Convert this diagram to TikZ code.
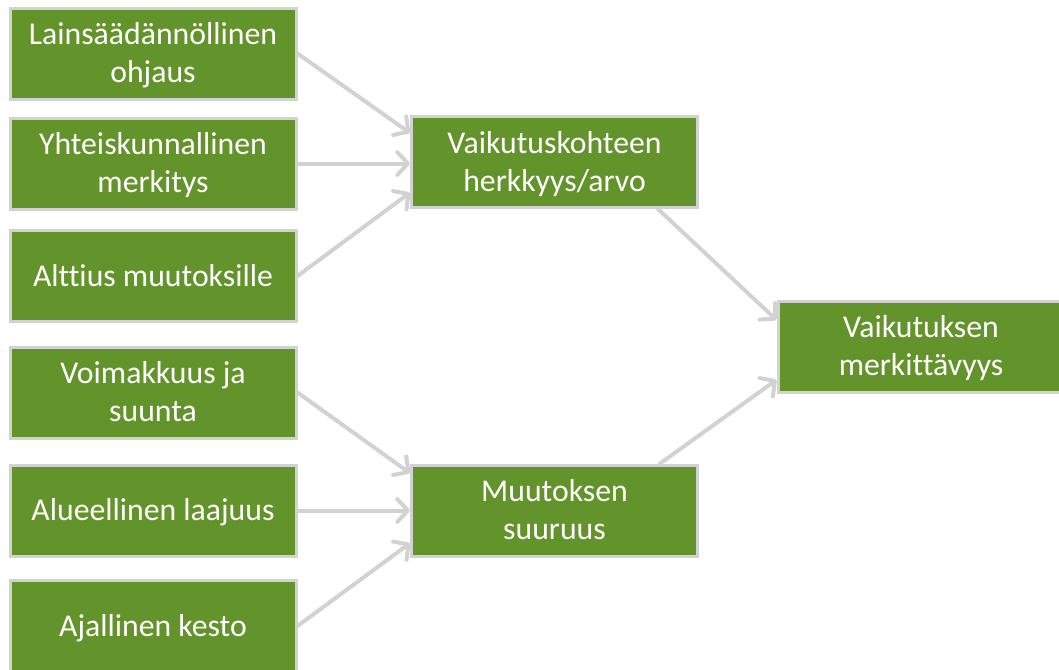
\documentclass[tikz,border=0pt]{standalone}
\usepackage{fontspec}
\setmainfont[Ligatures=NoCommon]{Carlito}
\usetikzlibrary{arrows.meta}
\definecolor{boxgreen}{RGB}{99,148,43}
\definecolor{edgegray}{RGB}{210,210,210}
\newcommand\lnstrut{\vrule height 21.75pt depth 6.75pt width 0pt}
\begin{document}
\begin{tikzpicture}[x=0.75pt,y=-0.75pt,
  box/.style={draw=edgegray, line width=2.25pt, fill=boxgreen, text=white,
    font=\fontsize{23.8}{28.5}\selectfont, align=center,
    minimum width=214.5pt, minimum height=68.25pt, inner sep=0pt},
  conn/.style={draw=edgegray, line width=3pt, line cap=round,
    -{Straight Barb[length=8pt,width=17pt,line cap=round,line join=round]}}]
\useasboundingbox (0,0) rectangle (1059,669);
\clip (0,0) rectangle (1059,669);
\node[box] (L1) at (153,53.5) {\lnstrut Lainsäädännöllinen\\\lnstrut ohjaus};
\node[box] (L2) at (153,163.5) {\lnstrut Yhteiskunnallinen\\\lnstrut merkitys};
\node[box] (L3) at (153,276) {\lnstrut Alttius muutoksille};
\node[box] (L4) at (153,392.5) {\lnstrut Voimakkuus ja\\\lnstrut suunta};
\node[box] (L5) at (153,510.5) {\lnstrut Alueellinen laajuus};
\node[box] (L6) at (153,626) {\lnstrut Ajallinen kesto};
\node[box] (M1) at (554.5,162) {\lnstrut Vaikutuskohteen\\\lnstrut herkkyys/arvo};
\node[box] (M2) at (554.5,510.5) {\lnstrut Muutoksen\\\lnstrut suuruus};
\node[box] (R) at (921,346.5) {\lnstrut Vaikutuksen\\\lnstrut merkittävyys};
\draw[conn] (L1.east) -- ([yshift=21.75pt]M1.west);
\draw[conn] (L2.east) -- (L2.east -| M1.west);
\draw[conn] (L3.east) -- ([yshift=-23pt]M1.west);
\draw[conn] (L4.east) -- ([yshift=28pt]M2.west);
\draw[conn] (L5.east) -- (L5.east -| M2.west);
\draw[conn] (L6.east) -- ([yshift=-24.5pt]M2.west);
\draw[conn] ([xshift=-30.75pt]M1.south east) -- ([yshift=19.9pt]R.west);
\draw[conn] ([xshift=-29.25pt]M2.north east) -- ([yshift=-25pt]R.west);
\end{tikzpicture}
\end{document}
